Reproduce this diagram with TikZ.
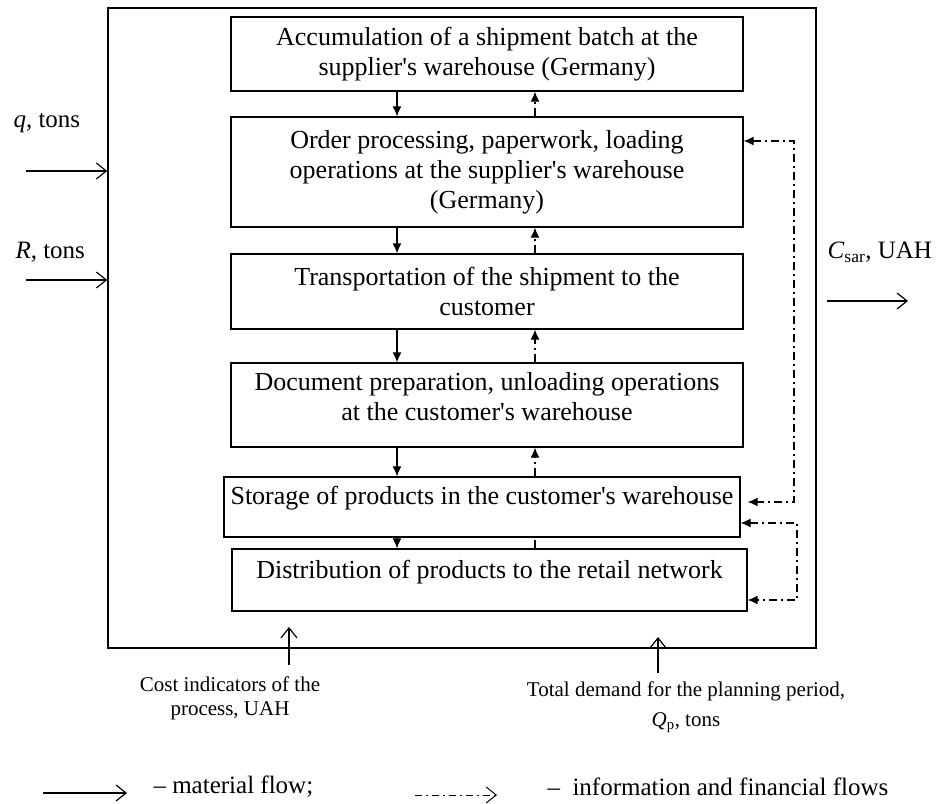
\documentclass[tikz,border=0pt]{standalone}
\usepackage{fontspec}
\setmainfont{Liberation Serif}
\usetikzlibrary{arrows.meta}

\newcommand{\apos}{\textquotesingle}

\begin{document}
\begin{tikzpicture}[x=1pt,y=-1pt,
  stage/.style={draw,line width=1.4pt,minimum width=512pt,align=center,inner sep=0pt,font=\fontsize{26}{30}\selectfont},
  mat/.style={line width=1.2pt,-{Latex[length=10pt,width=9pt]}},
  info/.style={line width=1.2pt,dash pattern=on 8pt off 4pt on 2pt off 4pt},
  infotip/.style={info,-{Latex[length=10pt,width=9pt]}},
  infoboth/.style={info,{Latex[length=10pt,width=9pt]}-{Latex[length=10pt,width=9pt]}},
  open/.style={line width=1.2pt,-{Straight Barb[length=10pt,width=16pt]}},
  lbl/.style={font=\fontsize{25}{30}\selectfont},
  note/.style={align=center,font=\fontsize{21}{24}\selectfont}]

\useasboundingbox (0,0) rectangle (936,803);

\node[draw,line width=1.4pt,minimum width=708pt,minimum height=640pt] (sys) at (462,328) {};

\node[stage,minimum height=74pt] (b1) at (487,54) {Accumulation of a shipment batch at the\\supplier\apos s warehouse (Germany)};
\node[stage,minimum height=110pt] (b2) at (487,172) {Order processing, paperwork, loading\\operations at the supplier\apos s warehouse\\(Germany)};
\node[stage,minimum height=75pt] (b3) at (487,291.5) {Transportation of the shipment to the\\customer};
\node[stage,minimum height=84pt,text depth=17.5pt] (b4) at (487,405) {Document preparation, unloading operations\\at the customer\apos s warehouse};
\node[stage,minimum width=516pt,minimum height=60pt,text depth=23.5pt] (b5) at (482,507) {Storage of products in the customer\apos s warehouse};
\node[stage,minimum width=515pt,minimum height=62pt,text depth=21.5pt] (b6) at (489.5,580) {Distribution of products to the retail network};

\coordinate (dn) at (397,0);
\coordinate (up) at (535,0);
\foreach \a/\b in {b1/b2,b2/b3,b3/b4,b4/b5,b5/b6}
  \draw[mat] (\a.south -| dn) -- (\b.north -| dn);
\foreach \a/\b in {b1/b2,b2/b3,b3/b4,b4/b5}
  \draw[infotip] (\b.north -| up) -- (\a.south -| up);
\draw[info] (b6.north -| up) -- (b5.south -| up);

\coordinate (ra) at (794,141);
\coordinate (rb) at (794,502);
\draw[infoboth] (b2.east |- ra) -- (ra) -- (rb) -- ([xshift=7pt]b5.east |- rb);
\coordinate (rc) at (797,523);
\coordinate (rd) at (797,600);
\draw[infoboth] (b5.east |- rc) -- (rc) -- (rd) -- (b6.east |- rd);

\node[lbl,anchor=west] (q) at (10,123) {\textit{q}, tons};
\coordinate (qs) at (26,171);
\draw[open] (qs) -- (sys.west |- qs);
\node[lbl,anchor=west] (r) at (12,252) {\textit{R}, tons};
\coordinate (rs) at (26,280);
\draw[open] (rs) -- (sys.west |- rs);
\node[lbl,anchor=west] (c) at (824,252) {\textit{C}\textsubscript{sar}, UAH};
\coordinate (cs) at (827,301);
\coordinate (ce) at (908,301);
\draw[open] (cs) -- (ce);

\node[note] (cost) at (230,698) {Cost indicators of the\\process, UAH};
\coordinate (cb) at (289,665);
\coordinate (ct) at (289,627);
\draw[open] (cb) -- (ct);
\node[note,font=\fontsize{21}{30}\selectfont] (dem) at (686,707) {Total demand for the planning period,\\\textit{Q}\textsubscript{p}, tons};
\coordinate (db) at (658,673);
\coordinate (dt) at (658,637);
\draw[open] (db) -- (dt);

\coordinate (l1a) at (43,793);
\coordinate (l1b) at (127,793);
\draw[open] (l1a) -- (l1b);
\node[lbl,anchor=west] (l1) at (150,787) {-- material flow;};
\coordinate (l2a) at (415,795);
\coordinate (l2b) at (497,795);
\draw[open,line width=1pt,dash pattern=on 7pt off 4pt on 2pt off 4pt] (l2a) -- (l2b);
\node[lbl,anchor=west] (l2) at (544,787) {--\ \ information and financial flows};
\end{tikzpicture}
\end{document}
